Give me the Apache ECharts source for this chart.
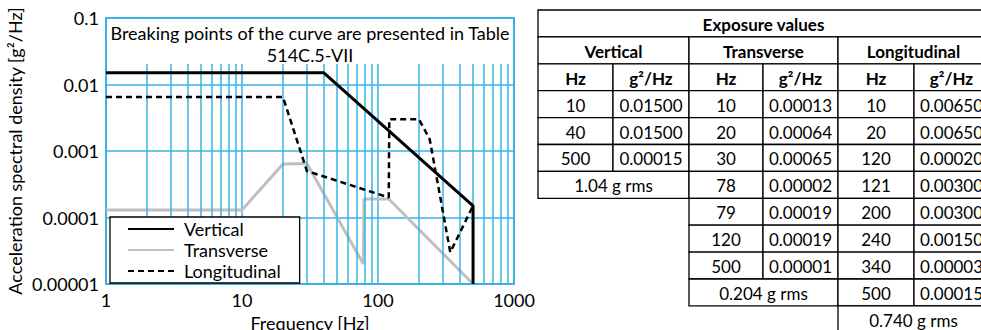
<!DOCTYPE html>
<html>
<head>
<meta charset="utf-8">
<title>Exposure values</title>
<script src="https://cdn.jsdelivr.net/npm/echarts@6/dist/echarts.min.js"></script>
<style>
  html, body { margin: 0; padding: 0; background: #fff; }
  #main { width: 981px; height: 330px; }
</style>
</head>
<body>
<div id="main"></div>
<script>
// curve break points
const verticalFreq = [1, 40, 500, 500];
const verticalPsd = [0.015, 0.015, 0.00015, 0.00001];
const transverseFreq = [1, 10, 20, 30, 78, 79, 120, 500];
const transversePsd = [0.00013, 0.00013, 0.00064, 0.00065, 0.00002, 0.00019, 0.00019, 0.00001];
const longitudinalFreq = [1, 20, 30, 120, 121, 200, 240, 340, 500];
const longitudinalPsd = [0.0065, 0.0065, 0.0005, 0.0002, 0.003, 0.003, 0.0015, 0.00003, 0.00015];

// minor vertical grid lines (2..9 of each decade)
const minorFreqs = [2, 3, 4, 5, 6, 7, 8, 9, 20, 30, 40, 50, 60, 70, 80, 90, 200, 300, 400, 500, 600, 700, 800, 900];
const xTickLabels = ['1', '10', '100', '1000'];
const yTickLabels = ['0.00001', '0.0001', '0.001', '0.01', '0.1'];

// table contents
const tableVertHz = ['10', '40', '500'];
const tableVertPsd = ['0.01500', '0.01500', '0.00015'];
const tableVertRms = '1.04 g rms';
const tableTransHz = ['10', '20', '30', '78', '79', '120', '500'];
const tableTransPsd = ['0.00013', '0.00064', '0.00065', '0.00002', '0.00019', '0.00019', '0.00001'];
const tableTransRms = '0.204 g rms';
const tableLongHz = ['10', '20', '120', '121', '200', '240', '340', '500'];
const tableLongPsd = ['0.00650', '0.00650', '0.00020', '0.00300', '0.00300', '0.00150', '0.00003', '0.00015'];
const tableLongRms = '0.740 g rms';

const FONT = 'Lato, "Liberation Sans", sans-serif';
const BLUE = '#38b3e6';

function pairs(xs, ys) {
  return xs.map((x, i) => [x, ys[i]]);
}

// table built from graphic rects + texts
const colX = [538, 613, 689, 763, 838, 914, 989];
const rowH = 26.9;
const rowY = (r) => 10 + r * rowH;
const tableEls = [];
function cell(c0, c1, r, text, bold) {
  const x = colX[c0], w = colX[c1] - colX[c0], y = rowY(r);
  tableEls.push({
    type: 'rect', z: 100,
    shape: { x: x, y: y, width: w, height: rowH },
    style: { fill: '#fff', stroke: '#000', lineWidth: 1.3 }
  });
  tableEls.push({
    type: 'text', z: 101,
    x: x + w / 2, y: y + rowH / 2 + 1,
    style: {
      text: text, fill: '#000', fontSize: 17, fontFamily: FONT,
      fontWeight: bold ? 'bold' : 'normal',
      align: 'center', verticalAlign: 'middle',
      textAlign: 'center', textVerticalAlign: 'middle'
    }
  });
}
cell(0, 6, 0, 'Exposure values', true);
cell(0, 2, 1, 'Vertical', true);
cell(2, 4, 1, 'Transverse', true);
cell(4, 6, 1, 'Longitudinal', true);
[0, 1, 2].forEach((k) => {
  cell(2 * k, 2 * k + 1, 2, 'Hz', true);
  cell(2 * k + 1, 2 * k + 2, 2, 'g²/Hz', true);
});
[[tableVertHz, tableVertPsd, tableVertRms],
 [tableTransHz, tableTransPsd, tableTransRms],
 [tableLongHz, tableLongPsd, tableLongRms]].forEach((g, k) => {
  g[0].forEach((hz, i) => {
    cell(2 * k, 2 * k + 1, 3 + i, hz, false);
    cell(2 * k + 1, 2 * k + 2, 3 + i, g[1][i], false);
  });
  cell(2 * k, 2 * k + 2, 3 + g[0].length, g[2], false);
});

const myChart = echarts.init(document.getElementById('main'), null, { renderer: 'svg' });

const option = {
  animation: false,
  textStyle: { fontFamily: FONT },
  grid: {
    left: 106, right: 467, top: 18, bottom: 46,
    outerBoundsMode: 'none', containLabel: false,
    show: true, borderColor: BLUE, borderWidth: 2, backgroundColor: '#fff'
  },
  xAxis: {
    type: 'log', logBase: 10, min: 1, max: 1000,
    name: 'Frequency [Hz]', nameLocation: 'middle', nameGap: 26,
    nameTextStyle: { fontSize: 18, color: '#000', fontFamily: FONT },
    axisLine: { show: false }, axisTick: { show: false },
    axisLabel: {
      fontSize: 18, color: '#000', margin: 7,
      formatter: (v) => xTickLabels[Math.round(Math.log10(v))]
    },
    splitLine: { show: true, lineStyle: { color: BLUE, width: 1.5 } }
  },
  yAxis: {
    type: 'log', logBase: 10, min: 0.00001, max: 0.1,
    name: 'Acceleration spectral density [g²/Hz]', nameLocation: 'middle', nameGap: 82,
    nameTextStyle: { fontSize: 18, color: '#000', fontFamily: FONT },
    axisLine: { show: false }, axisTick: { show: false },
    axisLabel: {
      fontSize: 18, color: '#000', margin: 7,
      formatter: (v) => yTickLabels[Math.round(Math.log10(v)) + 5]
    },
    splitLine: { show: true, lineStyle: { color: BLUE, width: 1.5 } }
  },
  legend: {
    orient: 'vertical', left: 110, top: 217,
    backgroundColor: '#fff', borderColor: '#000', borderWidth: 1.3,
    padding: [3, 19, 3, 17],
    itemWidth: 46, itemHeight: 17, itemGap: 3,
    itemStyle: { opacity: 0 },
    textStyle: { fontSize: 18, color: '#000', fontFamily: FONT, padding: [0, 0, 0, 5] },
    data: ['Vertical', 'Transverse', 'Longitudinal'],
    z: 20
  },
  graphic: [
    {
      type: 'rect', z: 50,
      shape: { x: 107, y: 19, width: 406, height: 45 },
      style: { fill: '#fff' }
    },
    {
      type: 'text', z: 51, x: 310, y: 33,
      style: {
        text: 'Breaking points of the curve are presented in Table', fill: '#000',
        fontSize: 18, fontFamily: FONT,
        align: 'center', verticalAlign: 'middle', textAlign: 'center', textVerticalAlign: 'middle'
      }
    },
    {
      type: 'text', z: 51, x: 310, y: 55,
      style: {
        text: '514C.5-VII', fill: '#000',
        fontSize: 18, fontFamily: FONT,
        align: 'center', verticalAlign: 'middle', textAlign: 'center', textVerticalAlign: 'middle'
      }
    }
  ].concat(tableEls),
  series: [
    {
      name: 'minor grid', type: 'line', data: [], z: 1, silent: true,
      markLine: {
        silent: true, symbol: ['none', 'none'], label: { show: false },
        lineStyle: { color: BLUE, width: 1.5, type: 'solid' },
        data: minorFreqs.map((f) => ({ xAxis: f }))
      }
    },
    {
      name: 'Vertical', type: 'line', symbol: 'none', z: 5,
      lineStyle: { color: '#000', width: 3 }, itemStyle: { color: '#000' },
      data: pairs(verticalFreq, verticalPsd)
    },
    {
      name: 'Transverse', type: 'line', symbol: 'none', z: 4,
      lineStyle: { color: '#bfbfbf', width: 3 }, itemStyle: { color: '#bfbfbf' },
      data: pairs(transverseFreq, transversePsd)
    },
    {
      name: 'Longitudinal', type: 'line', symbol: 'none', z: 6,
      lineStyle: { color: '#000', width: 2.5, type: [6, 4] }, itemStyle: { color: '#000' },
      data: pairs(longitudinalFreq, longitudinalPsd)
    }
  ]
};

myChart.setOption(option);
</script>
</body>
</html>
